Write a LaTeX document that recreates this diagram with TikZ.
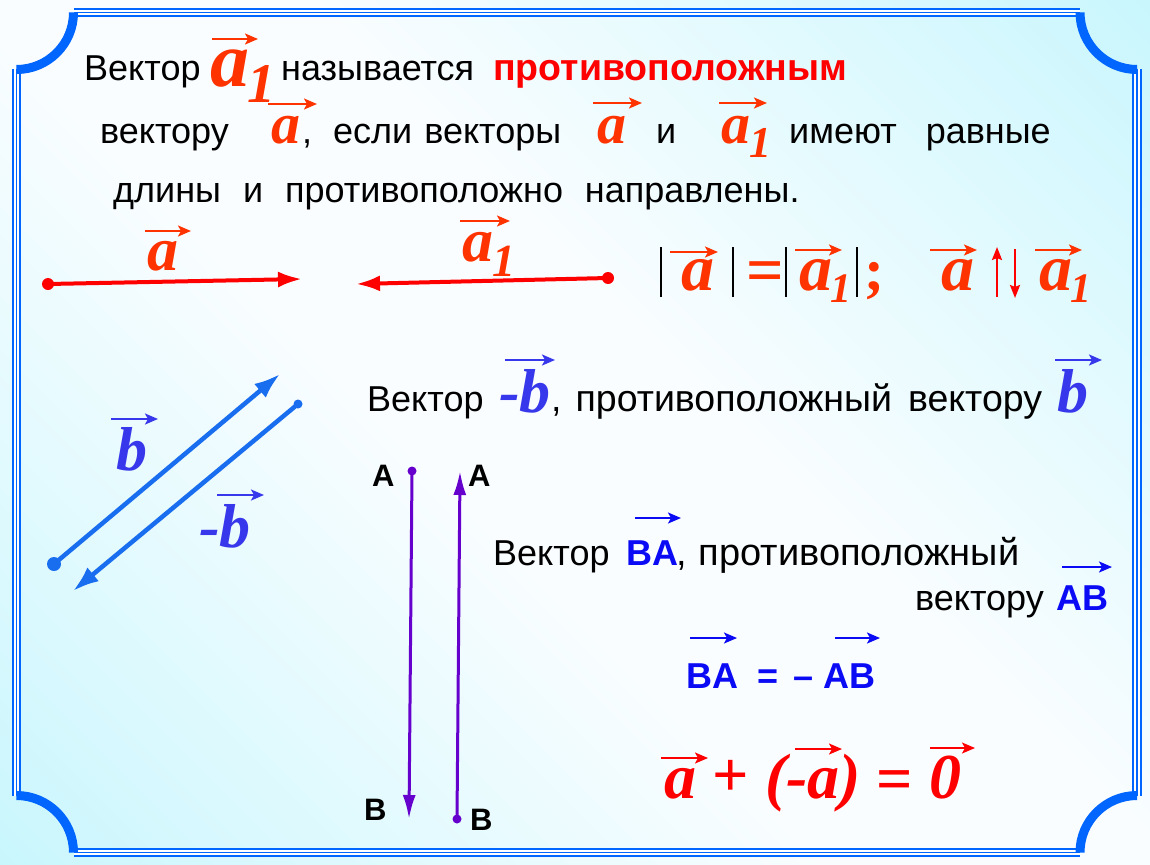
\documentclass[tikz,border=0pt]{standalone}
\usepackage{fontspec}
\setmainfont{Liberation Sans}
\newfontfamily\vf{Liberation Serif}
\usetikzlibrary{arrows.meta}
\definecolor{aor}{RGB}{255,51,0}
\definecolor{rd}{RGB}{255,0,0}
\definecolor{bl}{RGB}{25,110,240}
\definecolor{bb}{RGB}{55,55,235}
\definecolor{vio}{RGB}{102,0,204}
\definecolor{fr}{RGB}{0,102,255}
\definecolor{abl}{RGB}{10,10,245}
\definecolor{cyA}{RGB}{200,246,253}
\definecolor{cyB}{RGB}{226,250,254}
\definecolor{wh}{RGB}{250,253,255}
\pgfdeclarehorizontalshading{bgsh}{1500bp}{color(0bp)=(cyA); color(300bp)=(cyB); color(600bp)=(wh); color(820bp)=(wh); color(1130bp)=(cyB); color(1430bp)=(cyA)}
\newcommand\vfs[1]{\vf\bfseries\itshape\fontsize{#1}{#1}\selectfont}
\newcommand\sub[3]{\kern#1\raisebox{#2}{\fontsize{#3}{#3}\selectfont 1}}
\tikzset{
  txt/.style={anchor=base west, inner sep=0pt, font=\fontsize{36}{40}\selectfont},
  btxt/.style={anchor=base west, inner sep=0pt, font=\fontsize{36}{40}\selectfont\bfseries, text=abl},
  lab/.style={anchor=base west, inner sep=0pt, font=\fontsize{31}{31}\selectfont\bfseries},
  vl/.style={anchor=base west, inner sep=0pt},
  ov/.style={line width=2pt, -{Stealth[length=13pt,width=11pt,inset=3pt]}},
  vecR/.style={rd, line width=4pt, -{Latex[length=24pt,width=16pt]}},
  vecB/.style={bl, line width=4.5pt, -{Latex[length=26pt,width=18pt]}},
  vecV/.style={vio, line width=3pt, -{Latex[length=24pt,width=13pt]}},
  frA/.style={fr, line width=9.5pt},
  frB/.style={white, line width=5.5pt},
  frC/.style={fr, line width=1.8pt},
  corner/.style={fr, line width=9pt},
  bar/.style={black, line width=2.5pt},
  updn/.style={rd, line width=2.2pt, -{Stealth[length=13pt,width=10pt,inset=2pt]}}
}
\begin{document}
\begin{tikzpicture}[x=1pt,y=-1pt]
\useasboundingbox (0,0) rectangle (1150,864);
\begin{scope}
\clip (0,0) rectangle (1150,864);
\node[rotate=45, inner sep=0pt] (bg) at (575,432) {\pgfuseshading{bgsh}};
\end{scope}
% frame
\coordinate (Lt) at (16.5,69.5);
\coordinate (Lb) at (16.5,795.5);
\coordinate (Tl) at (73.5,12.5);
\coordinate (Tr) at (1080,12.5);
\coordinate (Rt) at (1137,69.5);
\coordinate (Rb) at (1137,795.5);
\coordinate (Bl) at (73.5,852.5);
\coordinate (Br) at (1080,852.5);
\foreach \st in {frA,frB,frC}{
  \draw[\st] (Lt) -- (Lb);
  \draw[\st] (Tl) -- (Tr);
  \draw[\st] (Rt) -- (Rb);
  \draw[\st] (Bl) -- (Br);
}
\draw[corner] (Lt) .. controls (48,69.5) and (73.5,44) .. (Tl);
\draw[corner] (Tr) .. controls (1080,44) and (1105.5,69.5) .. (Rt);
\draw[corner] (Rb) .. controls (1105.5,795.5) and (1080,821) .. (Br);
\draw[corner] (Bl) .. controls (73.5,821) and (48,795.5) .. (Lb);

% line 1
\node[txt] (l1a) at (84,81) {Вектор};
\node[vl, font=\vfs{78}, text=aor] (l1v) at (210,87) {a\sub{-2pt}{-16pt}{56}};
\draw[ov, aor] (212,39) -- (258,39);
\node[txt] (l1b) at (281,81) {называется};
\node[txt, font=\fontsize{37.5}{40}\selectfont\bfseries, text=rd] (l1c) at (493,81) {противоположным};
% line 2
\node[txt] (l2a) at (100,143) {вектору};
\node[vl, font=\vfs{58}, text=aor] (l2v1) at (271,143) {a};
\draw[ov, aor] (268,104) -- (317,104);
\node[txt] (l2b) at (302,143) {,};
\node[txt] (l2c) at (333,143) {если\hspace{12pt}векторы};
\node[vl, font=\vfs{58}, text=aor] (l2v2) at (597,143) {a};
\draw[ov, aor] (593,103) -- (642,103);
\node[txt] (l2d) at (656,143) {и};
\node[vl, font=\vfs{58}, text=aor] (l2v3) at (721,143) {a\sub{-1pt}{-14pt}{44}};
\draw[ov, aor] (719,103) -- (767,103);
\node[txt] (l2e) at (789,143) {имеют\hspace{29pt}равные};
% line 3
\node[txt] (l3) at (113,202) {\spaceskip=22pt длины и противоположно направлены.};

% red vectors
\coordinate (ra0) at (48,284);
\coordinate (ra1) at (302,279);
\coordinate (rb0) at (608,278);
\coordinate (rb1) at (356,284);
\draw[vecR] (ra0) -- (ra1);
\fill[rd] (ra0) circle (6pt);
\draw[vecR] (rb0) -- (rb1);
\fill[rd] (rb0) circle (6pt);
\node[vl, font=\vfs{62}, text=aor] (la) at (147,270) {a};
\draw[ov, aor] (145,231) -- (191,231);
\node[vl, font=\vfs{62}, text=aor] (la1) at (462,261) {a\sub{-1pt}{-15pt}{46}};
\draw[ov, aor] (460,221) -- (510,221);

% formula row
\draw[bar] (661,247) -- (661,297);
\node[vl, font=\vfs{66}, text=aor] (fa) at (681,290) {a};
\draw[ov, aor] (670,252) -- (718,252);
\draw[bar] (733,247) -- (733,297);
\node[vl, font=\vf\bfseries\fontsize{66}{66}\selectfont, text=aor] (feq) at (746,292) {=};
\draw[bar] (786,247) -- (786,297);
\node[vl, font=\vfs{66}, text=aor] (fa1) at (799,290) {a\sub{-2pt}{-12pt}{42}};
\draw[ov, aor] (795,250) -- (842,250);
\draw[bar] (857,247) -- (857,297);
\node[vl, font=\vf\bfseries\fontsize{60}{60}\selectfont, text=aor] (fsc) at (864,290) {;};
\node[vl, font=\vfs{66}, text=aor] (fa2) at (941,290) {a};
\draw[ov, aor] (930,250) -- (977,250);
\coordinate (up0) at (997,297);
\coordinate (up1) at (997,247);
\coordinate (dn0) at (1015,249);
\coordinate (dn1) at (1015,298);
\draw[updn] (up0) -- (up1);
\draw[updn] (dn0) -- (dn1);
\node[vl, font=\vfs{66}, text=aor] (fa3) at (1039,290) {a\sub{-2pt}{-12pt}{42}};
\draw[ov, aor] (1035,250) -- (1082,250);

% blue vectors
\coordinate (b0) at (54,564);
\coordinate (b1) at (280,374);
\coordinate (nb0) at (298,404);
\coordinate (nb1) at (73,591);
\draw[vecB] (b0) -- (b1);
\fill[bl] (b0) circle (7pt);
\draw[vecB] (nb0) -- (nb1);
\fill[bl] (nb0) circle (4.5pt);
\node[vl, font=\vfs{62}, text=bb] (lb) at (116,470) {b};
\draw[ov, bb] (111,419) -- (158,419);
\node[vl, font=\vfs{62}, text=bb] (lnb) at (199,547) {-b};
\draw[ov, bb] (217,495) -- (264,495);

% line -b
\node[txt] (m1) at (367,411) {Вектор};
\node[vl, font=\vfs{62}, text=bb] (m1v) at (499,412) {-b};
\draw[ov, bb] (505,360) -- (555,360);
\node[txt, font=\fontsize{37.5}{40}\selectfont] (m1b) at (551,411) {,\hspace{14pt}противоположный\hspace{16pt}вектору};
\node[vl, font=\vfs{62}, text=bb] (m1v2) at (1057,412) {b};
\draw[ov, bb] (1055,360) -- (1102,360);

% purple vectors
\coordinate (p0) at (412,471);
\coordinate (p1) at (409,819);
\coordinate (q0) at (457,819);
\coordinate (q1) at (460,471);
\draw[vecV] (p0) -- (p1);
\fill[vio] (p0) circle (4.5pt);
\draw[vecV] (q0) -- (q1);
\fill[vio] (q0) circle (4.5pt);
\node[lab] (A1) at (372,486) {A};
\node[lab] (A2) at (468,486) {A};
\node[lab] (B1) at (364,820) {B};
\node[lab] (B2) at (470,830) {B};

% BA text
\node[txt] (n1) at (493,565) {Вектор};
\node[btxt] (n1v) at (626,565) {BA};
\draw[ov, abl] (635,518) -- (681,518);
\node[txt, font=\fontsize{38}{40}\selectfont] (n1b) at (676,565) {,\hspace{12pt}противоположный};
\node[txt] (n2) at (915,610) {вектору};
\node[btxt] (n2v) at (1056,610) {AB};
\draw[ov, abl] (1062,567) -- (1112,567);
\node[btxt] (e1) at (686,688) {BA};
\node[btxt] (e2) at (757,688) {=};
\node[btxt] (e3) at (793,688) {–};
\node[btxt] (e4) at (823,688) {AB};
\draw[ov, abl] (690,638) -- (737,638);
\draw[ov, abl] (835,638) -- (880,638);

% bottom formula
\node[vl, font=\vfs{64}, text=rd] (z1) at (664,798) {a};
\draw[ov, rd] (661,758) -- (708,758);
\node[vl, font=\vf\bfseries\fontsize{64}{64}\selectfont, text=rd] (z2) at (712,796) {+};
\node[vl, font=\vfs{64}, text=rd] (z3) at (765,798) {(-a)};
\draw[ov, rd] (795,749) -- (842,749);
\node[vl, font=\vf\bfseries\fontsize{64}{64}\selectfont, text=rd] (z4) at (876,800) {=};
\node[vl, font=\vfs{64}, text=rd] (z5) at (929,798) {0};
\draw[ov, rd] (930,748) -- (975,748);
\end{tikzpicture}
\end{document}
